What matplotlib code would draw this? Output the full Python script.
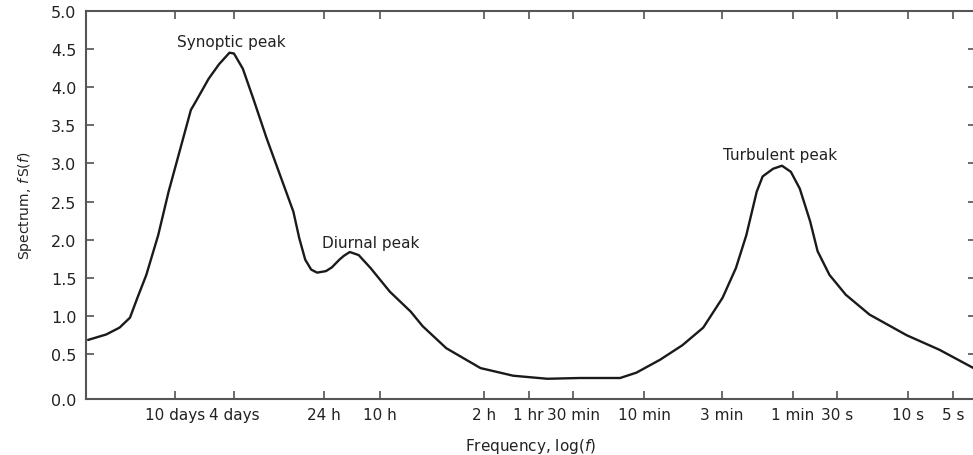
import numpy as np
import matplotlib
matplotlib.use("Agg")
import matplotlib.pyplot as plt

plt.rcParams['font.family'] = ['DejaVu Sans']

# curve: log10 of frequency (Hz) and spectrum value
log_freq = [-6.52, -6.40, -6.31, -6.24, -6.19, -6.13, -6.05, -5.98, -5.90, -5.83,
            -5.80, -5.71, -5.64, -5.57, -5.54, -5.48, -5.41, -5.32, -5.23, -5.14,
            -5.10, -5.06, -5.02, -4.98, -4.92, -4.88, -4.83, -4.80, -4.76, -4.70,
            -4.62, -4.49, -4.35, -4.27, -4.11, -3.88, -3.66, -3.43, -3.21, -2.94,
            -2.83, -2.67, -2.52, -2.38, -2.25, -2.16, -2.09, -2.02, -1.98, -1.91,
            -1.85, -1.79, -1.73, -1.66, -1.61, -1.53, -1.42, -1.26, -1.01, -0.79,
            -0.56]
spectrum = [0.69, 0.76, 0.85, 0.98, 1.24, 1.54, 2.06, 2.63, 3.20, 3.70,
            3.80, 4.11, 4.30, 4.45, 4.44, 4.24, 3.85, 3.33, 2.85, 2.37,
            2.02, 1.74, 1.61, 1.57, 1.59, 1.64, 1.74, 1.79, 1.84, 1.80,
            1.63, 1.32, 1.06, 0.87, 0.58, 0.32, 0.22, 0.18, 0.19, 0.19,
            0.26, 0.43, 0.62, 0.85, 1.24, 1.63, 2.06, 2.63, 2.83, 2.93,
            2.97, 2.89, 2.67, 2.24, 1.85, 1.54, 1.28, 1.02, 0.75, 0.56,
            0.32]

# x tick labels and their periods in seconds
tick_labels = ['10 days', '4 days', '24 h', '10 h', '2 h', '1 hr', '30 min',
               '10 min', '3 min', '1 min', '30 s', '10 s', '5 s']
tick_periods = [864000, 345600, 86400, 36000, 7200, 3600, 1800,
                600, 180, 60, 30, 10, 5]

y_ticks = [0.5, 1.0, 1.5, 2.0, 2.5, 3.0, 3.5, 4.0, 4.5, 5.0]
y_bottom = -0.085  # the printed axis puts "0.0" a bit below the linear spacing

peaks = [('Synoptic peak', -5.56, 4.60),
         ('Diurnal peak', -4.62, 1.97),
         ('Turbulent peak', -1.86, 3.12)]

fig = plt.figure(figsize=(9.73, 4.56), dpi=100)
ax = fig.add_axes([0.0884, 0.1228, 0.9146, 0.8515])

freq = 10 ** np.array(log_freq)
ax.plot(freq, spectrum, color='#1a1a1a', lw=1.7, solid_joinstyle='round')
ax.set_xscale('log')
ax.set_xlim(10 ** -6.536, 10 ** -0.544)
ax.set_ylim(y_bottom, 5.0)

ax.set_xticks([1.0 / p for p in tick_periods])
ax.set_xticklabels(tick_labels)
ax.xaxis.set_minor_locator(matplotlib.ticker.NullLocator())
ax.set_yticks([y_bottom] + y_ticks)
ax.set_yticklabels(['0.0'] + ['%.1f' % v for v in y_ticks])

ax.tick_params(direction='in', length=6, width=1.1, color='#444444',
               labelcolor='#222222', labelsize=11, top=True, right=True)
ax.tick_params(axis='x', pad=6)
ax.tick_params(axis='y', pad=7, labelsize=11.5)
for s in ax.spines.values():
    s.set_color('#555555')
    s.set_linewidth(1.5)

for text, x, y in peaks:
    ax.text(10 ** x, y, text, ha='center', va='center', fontsize=11, color='#222222')

ax.set_xlabel('Frequency, log($f$)', fontsize=11, color='#222222', labelpad=10)
ax.set_ylabel('Spectrum, $f\\,$S($f$)', fontsize=10, color='#222222', labelpad=12)

fig.savefig('out.png', dpi=100)
